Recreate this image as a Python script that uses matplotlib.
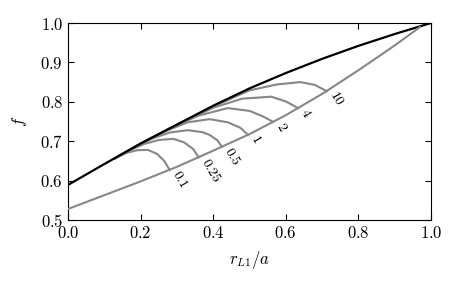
import matplotlib
matplotlib.use("Agg")
import matplotlib.pyplot as plt

# upper (black) curve
edge_x = [0.0, 0.1, 0.2, 0.3, 0.4, 0.5, 0.6, 0.7, 0.8, 0.9, 1.0]
edge_y = [0.589, 0.642, 0.694, 0.742, 0.790, 0.834, 0.873, 0.909, 0.942, 0.972, 1.0]

# lower (gray) curve
base_x = [0.0, 0.1, 0.2, 0.3, 0.4, 0.5, 0.6, 0.7, 0.8, 0.9, 0.97]
base_y = [0.528, 0.563, 0.598, 0.635, 0.676, 0.718, 0.766, 0.820, 0.880, 0.943, 0.99]

# family of arcs, one per parameter value
arc_labels = ["0.1", "0.25", "0.5", "1", "2", "4", "10"]
arc_x = [
    [0.13, 0.16, 0.19, 0.22, 0.245, 0.265, 0.28],
    [0.13, 0.17, 0.21, 0.25, 0.29, 0.32, 0.345, 0.36],
    [0.13, 0.18, 0.23, 0.28, 0.33, 0.37, 0.39, 0.412, 0.424],
    [0.13, 0.20, 0.27, 0.33, 0.39, 0.44, 0.475, 0.496],
    [0.13, 0.20, 0.28, 0.36, 0.44, 0.50, 0.537, 0.565],
    [0.13, 0.20, 0.30, 0.40, 0.48, 0.56, 0.60, 0.634],
    [0.13, 0.20, 0.30, 0.40, 0.50, 0.575, 0.64, 0.68, 0.713],
]
arc_y = [
    [0.657, 0.670, 0.677, 0.678, 0.668, 0.650, 0.627],
    [0.657, 0.677, 0.693, 0.703, 0.706, 0.697, 0.680, 0.659],
    [0.657, 0.683, 0.706, 0.722, 0.728, 0.723, 0.716, 0.702, 0.686],
    [0.657, 0.693, 0.726, 0.748, 0.756, 0.748, 0.734, 0.716],
    [0.657, 0.694, 0.733, 0.765, 0.784, 0.777, 0.763, 0.749],
    [0.657, 0.694, 0.741, 0.785, 0.808, 0.813, 0.801, 0.784],
    [0.657, 0.694, 0.742, 0.788, 0.829, 0.844, 0.850, 0.843, 0.827],
]

plt.rcParams.update({
    "font.family": "serif",
    "font.serif": ["cmr10", "DejaVu Serif"],
    "mathtext.fontset": "cm",
    "axes.formatter.use_mathtext": True,
    "font.size": 12,
})

fig = plt.figure(figsize=(4.58, 2.83), dpi=100)
ax = fig.add_axes([0.1485, 0.2226, 0.7925, 0.6961])

GRAY = "#878787"

for xs, ys, lab in zip(arc_x, arc_y, arc_labels):
    ax.plot(xs, ys, color=GRAY, lw=1.5, zorder=2)
    ax.annotate(lab, (xs[-1], ys[-1]), textcoords="offset points",
                xytext=(4, -2), ha="left", va="center", rotation=-60,
                rotation_mode="anchor", fontsize=10)

ax.plot(edge_x, edge_y, color="black", lw=1.6, zorder=3)
ax.plot(base_x, base_y, color=GRAY, lw=1.5, zorder=3)

ax.set_xlim(0, 1)
ax.set_ylim(0.5, 1.0)
ax.set_xticks([0.0, 0.2, 0.4, 0.6, 0.8, 1.0])
ax.set_yticks([0.5, 0.6, 0.7, 0.8, 0.9, 1.0])
ax.tick_params(direction="in", top=True, right=True, length=4, width=0.8)
ax.set_xlabel(r"$r_{L1}/a$", labelpad=6)
ax.set_ylabel(r"$f$", labelpad=8)

fig.savefig("out.png", dpi=100)
